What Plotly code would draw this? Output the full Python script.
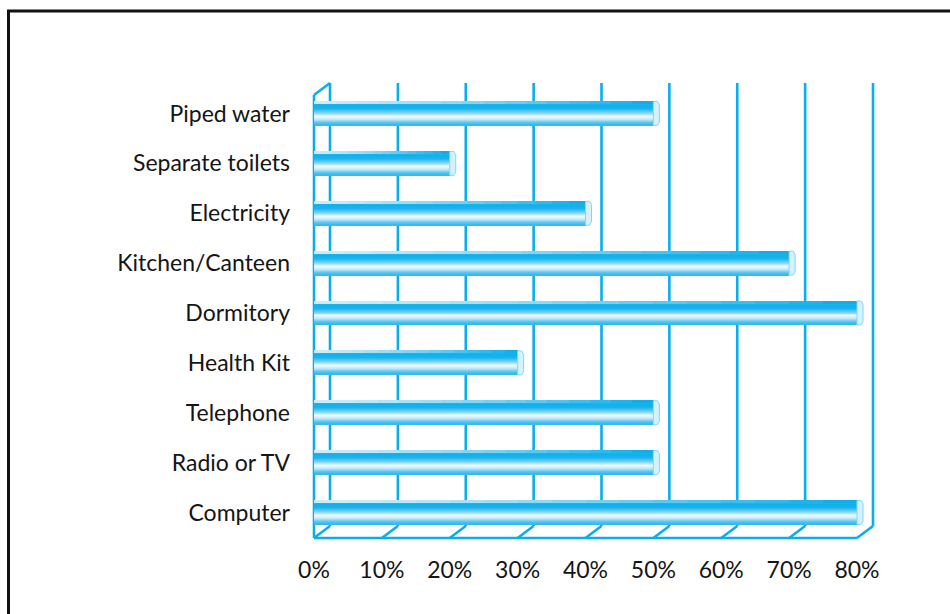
import plotly.graph_objects as go

# Facilities available (share of schools, %)
categories = [
    "Piped water",
    "Separate toilets",
    "Electricity",
    "Kitchen/Canteen",
    "Dormitory",
    "Health Kit",
    "Telephone",
    "Radio or TV",
    "Computer",
]
values = [50, 20, 40, 70, 80, 30, 50, 50, 80]
tick_values = [0, 10, 20, 30, 40, 50, 60, 70, 80]
tick_labels = ["0%", "10%", "20%", "30%", "40%", "50%", "60%", "70%", "80%"]

# ---- geometry ---------------------------------------------------------
W, H = 950, 614
M_L, M_R, M_T, M_B = 300, 65, 78, 72
X_RANGE = [-2.063, 84.125]
Y_RANGE = [8.5915, -0.7118]          # reversed: first category at the top
plot_w = W - M_L - M_R
plot_h = H - M_T - M_B
px_per_x = plot_w / (X_RANGE[1] - X_RANGE[0])
px_per_y = plot_h / (Y_RANGE[0] - Y_RANGE[1])

DEPTH_X = 16 / px_per_x              # 3D wall depth, data units
DEPTH_Y = 12 / px_per_y
WALL_TOP = -0.371                    # front edge of the frame (top)
FLOOR = 8.511                        # front edge of the floor
BAR_THICK = 0.48

LINE = "#0aaeea"

# vertical colour profile of the tube-like bars (fraction from top, colour)
stops = [
    (0.00, (160, 222, 248)),
    (0.11, (140, 216, 246)),
    (0.15, (14, 175, 235)),
    (0.32, (26, 180, 237)),
    (0.50, (130, 213, 246)),
    (0.64, (240, 250, 254)),
    (0.76, (196, 236, 250)),
    (0.89, (96, 200, 242)),
    (1.00, (45, 184, 238)),
]
# top face of each bar: pale at the start, saturated towards the end
TOP_FACE = 0.13
top_pale = (205, 238, 251)
top_deep = (8, 172, 234)


def mix(c0, c1, f):
    r, g, b = (round(a + (b_ - a) * f) for a, b_ in zip(c0, c1))
    return f"rgb({r},{g},{b})"


def colour_at(t):
    for (t0, c0), (t1, c1) in zip(stops[:-1], stops[1:]):
        if t0 <= t <= t1:
            f = 0 if t1 == t0 else (t - t0) / (t1 - t0)
            return mix(c0, c1, f)
    return mix(stops[-1][1], stops[-1][1], 0)


fig = go.Figure()

n_strips = 24
strip = BAR_THICK / n_strips
y_pos = list(range(len(categories)))
n_segments = 16
for k in range(n_strips):
    t = (k + 0.5) / n_strips
    offset = -BAR_THICK / 2 + k * strip
    if t < TOP_FACE:
        # lengthwise gradient on the top face: split each bar into segments
        for j in range(n_segments):
            f = (j + 0.5) / n_segments
            fig.add_trace(
                go.Bar(
                    x=[v / n_segments * 1.02 for v in values],
                    base=[v * j / n_segments for v in values],
                    y=y_pos,
                    orientation="h",
                    width=strip * 1.15,
                    offset=offset,
                    marker=dict(color=mix(top_pale, top_deep, f ** 1.3), line=dict(width=0)),
                    hoverinfo="skip",
                    showlegend=False,
                )
            )
        continue
    fig.add_trace(
        go.Bar(
            x=values,
            y=y_pos,
            orientation="h",
            width=strip * 1.15,
            offset=offset,
            marker=dict(color=colour_at(t), line=dict(width=0)),
            hoverinfo="skip",
            showlegend=False,
        )
    )

shapes = []
line_style = dict(color=LINE, width=2.6)

# back-wall vertical lines and floor diagonals
for v in tick_values:
    shapes.append(dict(type="line", xref="x", yref="y", layer="below",
                       x0=v + DEPTH_X, x1=v + DEPTH_X,
                       y0=WALL_TOP - DEPTH_Y, y1=FLOOR - DEPTH_Y, line=line_style))
    shapes.append(dict(type="line", xref="x", yref="y", layer="below",
                       x0=v + DEPTH_X, x1=v,
                       y0=FLOOR - DEPTH_Y, y1=FLOOR, line=line_style))
# front floor edge
shapes.append(dict(type="line", xref="x", yref="y", layer="below",
                   x0=tick_values[0], x1=tick_values[-1], y0=FLOOR, y1=FLOOR,
                   line=line_style))
# front-left edge of the side wall and its top bevel
shapes.append(dict(type="line", xref="x", yref="y", layer="below",
                   x0=0, x1=0, y0=WALL_TOP, y1=FLOOR, line=line_style))
shapes.append(dict(type="line", xref="x", yref="y", layer="below",
                   x0=0, x1=DEPTH_X, y0=WALL_TOP, y1=WALL_TOP - DEPTH_Y,
                   line=line_style))

# bevelled end caps of the bars
for i, v in enumerate(values):
    top = i - BAR_THICK / 2
    bot = i + BAR_THICK / 2
    shapes.append(dict(
        type="path", xref="x", yref="y", xsizemode="pixel", xanchor=v,
        layer="above",
        path=(f"M 0,{top} L 4,{top} L 6,{top + BAR_THICK * 0.14} "
              f"L 6,{bot - BAR_THICK * 0.14} L 4,{bot} L 0,{bot} Z"),
        fillcolor="rgb(212,242,252)",
        line=dict(color="rgb(130,214,246)", width=1),
    ))

# outer frame
shapes.append(dict(type="rect", xref="paper", yref="paper",
                   x0=-M_L / plot_w + 8.5 / plot_w, x1=1.2,
                   y0=-0.3, y1=1 + (M_T - 11) / plot_h,
                   line=dict(color="#111111", width=3), fillcolor="rgba(0,0,0,0)"))

fig.update_layout(
    width=W,
    height=H,
    margin=dict(l=M_L, r=M_R, t=M_T, b=M_B),
    paper_bgcolor="white",
    plot_bgcolor="white",
    barmode="overlay",
    bargap=0,
    font=dict(family="Lato, Roboto, sans-serif", size=23, color="#151515"),
    shapes=shapes,
    xaxis=dict(
        range=X_RANGE,
        tickvals=tick_values,
        ticktext=tick_labels,
        showgrid=False,
        zeroline=False,
        showline=False,
        ticks="",
        ticklabelstandoff=12,
        fixedrange=True,
    ),
    yaxis=dict(
        range=Y_RANGE,
        tickvals=y_pos,
        ticktext=categories,
        showgrid=False,
        zeroline=False,
        showline=False,
        ticks="",
        ticklabelstandoff=9,
        fixedrange=True,
    ),
)

fig.write_html("out.html")
